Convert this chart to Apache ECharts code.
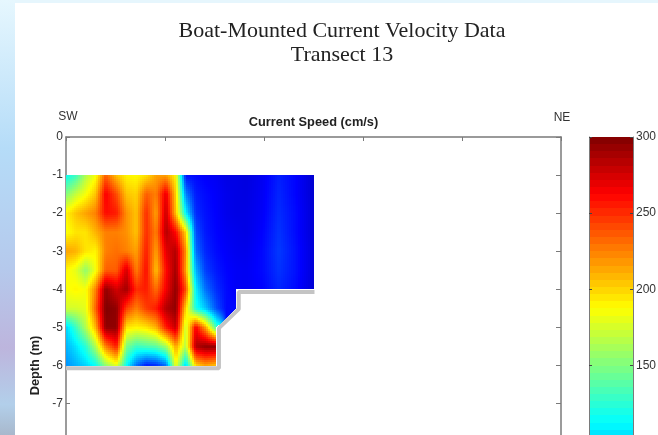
<!DOCTYPE html>
<html><head><meta charset="utf-8">
<style>html,body{margin:0;padding:0;background:#fff;overflow:hidden}#c{width:658px;height:435px;filter:blur(0.7px)}</style>
<script src="https://cdn.jsdelivr.net/npm/echarts@6/dist/echarts.min.js"></script>
</head><body><div id="c"></div>
<script>
const xs=[0,10,20,30,40,51,61,71,81,91,101,111,121,131,141,152,162,172,182,199,215,232,250];
const depths=[-1,-1.5,-2,-2.5,-3,-3.5,-4,-4.5,-5,-5.5,-6];
const row1 =[115,130,165,185,235,205,190,188,195,215,215,190,42,40,36,34,30,30,28,34,46,38,24];
const row2 =[150,170,185,205,265,240,205,200,235,225,270,200,75,45,40,36,32,30,29,35,48,38,24];
const row3 =[190,205,215,225,260,255,220,205,250,215,280,205,110,50,42,37,32,30,30,36,50,40,25];
const row4 =[185,195,195,210,225,225,220,205,250,225,285,260,200,60,44,38,34,32,30,38,52,40,25];
const row5 =[215,210,195,190,225,230,225,215,255,215,270,285,220,70,48,40,36,33,32,40,54,42,26];
const row6 =[190,180,155,185,235,235,275,225,260,205,260,290,215,90,55,44,38,35,34,40,52,42,26];
const row7 =[185,190,185,225,295,275,290,250,255,230,265,295,240,110,70,50,40,35,34,38,48,40,25];
const row8 =[175,175,180,235,300,295,245,225,245,255,285,295,200,120,95,60,40,40,null,null,null,null,null];
const row9 =[100,130,165,210,295,295,195,190,195,210,255,280,170,265,215,130,null,null,null,null,null,null,null];
const row10=[90,105,125,165,225,255,150,130,135,140,160,215,165,285,295,295,null,null,null,null,null,null,null];
const row11=[80,90,100,115,155,180,115,70,45,50,70,185,100,200,215,205,null,null,null,null,null,null,null];
const speed=[row1,row2,row3,row4,row5,row6,row7,row8,row9,row10,row11];
const outline=[[0,-1],[250,-1],[250,-4],[172,-4],[172,-4.5],[152,-5],[152,-6],[0,-6]];
const shadow=[[0,-6.07],[154.5,-6.07],[154.5,-5.02],[174.5,-4.52],[174.5,-4.07],[251,-4.07]];
const colorLevels=Array.from({length:64},(_,i)=>i);
const depthTicks={min:-12,max:0,interval:1};
const barTicks={min:0,max:300,interval:50};
const title='Boat-Mounted Current Velocity Data\nTransect 13';

const cl=v=>Math.max(0,Math.min(1,v));
function jet(val){const v=cl(val/300)*4;
  const r=cl(Math.min(v-1.5,4.5-v)),g=cl(Math.min(v-.5,3.5-v)),b=cl(Math.min(v+.5,2.5-v));
  return 'rgb('+Math.round(r*255)+','+Math.round(g*255)+','+Math.round(b*255)+')';}
function inside(x,y){let c=false;for(let i=0,j=outline.length-1;i<outline.length;j=i++){
  const a=outline[i],b=outline[j];
  if((a[1]>y)!==(b[1]>y)&&x<(b[0]-a[0])*(y-a[1])/(b[1]-a[1])+a[0])c=!c;}return c;}
function bilin(i,j,fx,fy){const pts=[[speed[j][i],(1-fx)*(1-fy)],[speed[j][i+1],fx*(1-fy)],[speed[j+1][i],(1-fx)*fy],[speed[j+1][i+1],fx*fy]];
  let s=0,w=0;pts.forEach(p=>{if(p[0]!=null){s+=p[0]*p[1];w+=p[1];}});return w>0?s/w:null;}
const cells=[];for(let j=0;j<depths.length-1;j++)for(let i=0;i<xs.length-1;i++)cells.push([i,j]);

function renderCell(params,api){
  const i=api.value(0),j=api.value(1);
  const p0=api.coord([xs[i],depths[j]]),p1=api.coord([xs[i+1],depths[j+1]]);
  const x0=Math.round(p0[0]),x1=Math.round(p1[0]),y0=Math.round(p0[1]),y1=Math.round(p1[1]);
  const edge=[speed[j][i],speed[j][i+1],speed[j+1][i],speed[j+1][i+1]].some(v=>v==null);
  const kids=[];const step=edge?1:2;
  for(let px=x0;px<x1;px+=step)for(let py=y0;py<y1;py+=step){
    const w=Math.min(step,x1-px),h=Math.min(step,y1-py);
    const fx=(px+w/2-p0[0])/(p1[0]-p0[0]),fy=(py+h/2-p0[1])/(p1[1]-p0[1]);
    const dx=xs[i]+fx*(xs[i+1]-xs[i]),dy=depths[j]+fy*(depths[j+1]-depths[j]);
    if(!inside(dx,dy))continue;
    const v=bilin(i,j,fx,fy);if(v==null)continue;
    kids.push({type:'rect',shape:{x:px,y:py,width:w,height:h},style:{fill:jet(v)}});
  }
  return {type:'group',children:kids};
}
function renderBar(params,api){
  const l=api.value(0);
  const a=api.coord([0,l/64*300]),b=api.coord([1,(l+1)/64*300]);
  const y=Math.round(b[1]),y2=Math.round(a[1]);
  return {type:'rect',shape:{x:a[0],y:y,width:b[0]-a[0],height:y2-y},style:{fill:jet((l+.5)/64*300)}};
}
const axisCol='#7a7a7a';
const lab={color:'#333',fontFamily:'Liberation Sans',fontSize:12};
const nameSt={fontFamily:'Liberation Sans',fontWeight:'bold',fontSize:12.8,color:'#222'};
const chart=echarts.init(document.getElementById('c'),null,{renderer:'canvas'});
chart.setOption({
  animation:false,
  title:{text:title,left:342,top:19,textAlign:'center',padding:0,
    textStyle:{fontFamily:'Liberation Serif',fontSize:22,fontWeight:'normal',color:'#222',lineHeight:24}},
  graphic:[
    {type:'rect',z:-1,shape:{x:0,y:0,width:658,height:3},style:{fill:'#e6f6fd'}},
    {type:'rect',z:-1,shape:{x:0,y:0,width:15,height:435},style:{fill:{type:'linear',x:0,y:0,x2:0,y2:1,colorStops:[
      {offset:0,color:'#e6f7fe'},{offset:.34,color:'#b5dcf8'},{offset:.62,color:'#b5c9ec'},{offset:.8,color:'#bdb5dd'},
      {offset:.93,color:'#b2cfea'},{offset:1,color:'#a8b8cc'}]}}},
    {type:'text',x:68,y:117,style:{text:'SW',fontFamily:'Liberation Sans',fontSize:12,fill:'#333',align:'center',verticalAlign:'middle'}},
    {type:'text',x:562,y:118,style:{text:'NE',fontFamily:'Liberation Sans',fontSize:12,fill:'#333',align:'center',verticalAlign:'middle'}}
  ],
  grid:[{left:66,top:137,width:495,height:457,outerBoundsMode:'none'},{left:589,top:137,width:44,height:457,outerBoundsMode:'none'}],
  xAxis:[
    {gridIndex:0,type:'value',position:'top',min:0,max:500,interval:100,
     axisLine:{show:true,lineStyle:{color:axisCol,width:1.5}},axisTick:{show:true,inside:true,length:4,lineStyle:{color:axisCol}},
     axisLabel:{show:false},splitLine:{show:false},
     name:'Current Speed (cm/s)',nameLocation:'middle',nameGap:8,nameTextStyle:nameSt},
    {gridIndex:1,type:'value',position:'top',min:0,max:1,
     axisLine:{show:true,lineStyle:{color:axisCol}},axisTick:{show:false},axisLabel:{show:false},splitLine:{show:false}}
  ],
  yAxis:[
    {gridIndex:0,type:'value',position:'left',...depthTicks,
     axisLine:{show:true,onZero:false,lineStyle:{color:axisCol,width:1.5}},axisTick:{show:true,inside:true,length:4,lineStyle:{color:axisCol}},
     axisLabel:{...lab,margin:3},splitLine:{show:false},
     name:'Depth (m)',nameLocation:'middle',nameGap:24,nameMoveOverlap:false,nameTextStyle:nameSt},
    {gridIndex:0,type:'value',position:'right',...depthTicks,
     axisLine:{show:true,onZero:false,lineStyle:{color:axisCol,width:1.5}},axisTick:{show:true,inside:true,length:5,lineStyle:{color:axisCol}},
     axisLabel:{show:false},splitLine:{show:false}},
    {gridIndex:1,type:'value',position:'right',...barTicks,
     axisLine:{show:true,onZero:false,lineStyle:{color:axisCol}},axisTick:{show:true,inside:true,length:3,lineStyle:{color:'#444'}},
     axisLabel:{...lab,margin:3},splitLine:{show:false},z:5},
    {gridIndex:1,type:'value',position:'left',...barTicks,
     axisLine:{show:true,onZero:false,lineStyle:{color:axisCol}},axisTick:{show:true,inside:true,length:3,lineStyle:{color:'#444'}},
     axisLabel:{show:false},splitLine:{show:false},z:5}
  ],
  series:[
    {type:'line',xAxisIndex:0,yAxisIndex:0,data:shadow,showSymbol:false,z:1,clip:false,
     lineStyle:{color:'#c4c4c4',width:4},silent:true},
    {type:'custom',xAxisIndex:0,yAxisIndex:0,data:cells,renderItem:renderCell,z:2,clip:false,silent:true},
    {type:'custom',xAxisIndex:1,yAxisIndex:2,data:colorLevels.map(l=>[l]),renderItem:renderBar,z:2,clip:false,silent:true}
  ]
});
</script></body></html>
